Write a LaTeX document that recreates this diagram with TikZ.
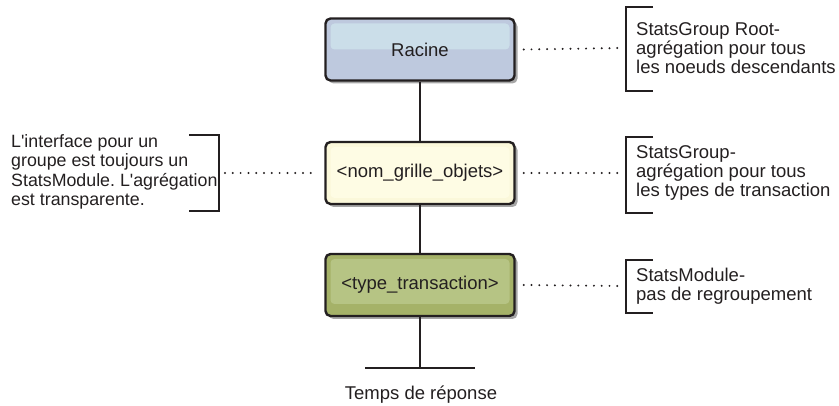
\documentclass[tikz,border=0pt]{standalone}
\usepackage{fontspec}
\setmainfont{Liberation Sans}
\frenchspacing
\definecolor{inkgray}{RGB}{35,31,32}
\definecolor{racineblue}{RGB}{190,201,222}
\definecolor{racinelight}{RGB}{203,222,233}
\definecolor{grillecream}{RGB}{251,248,218}
\definecolor{grillelight}{RGB}{254,252,228}
\definecolor{typegreen}{RGB}{165,178,104}
\definecolor{typelight}{RGB}{182,196,132}
\usetikzlibrary{positioning, shadows, calc}

\begin{document}
\begin{tikzpicture}[x=1pt, y=-1pt,
    font=\fontsize{18.5}{19}\selectfont, text=inkgray,
    levelbox/.style={rectangle, draw=inkgray, line width=2.4pt, rounded corners=5pt,
                     minimum width=189pt, minimum height=62pt, inner sep=0pt,
                     drop shadow={shadow xshift=3pt, shadow yshift=-3pt,
                                  fill=black!35, opacity=1}},
    sheen/.style 2 args={path picture={
        \fill[#1, rounded corners=4pt]
            ([shift={(5,5)}]path picture bounding box.north west) rectangle
            ([shift={(-5,-#2)}]path picture bounding box.south east);}},
    note/.style={align=left, inner sep=0pt, anchor=west},
    link/.style={draw=inkgray, line width=2.4pt},
    leader/.style={draw=inkgray, line width=2.2pt, line cap=round,
                   dash pattern=on 0pt off 7.8pt},
    bracket/.style={draw=inkgray, line width=2.4pt}
]
\useasboundingbox (0,0) rectangle (839,406);

% the three levels
\node[levelbox, fill=racineblue, sheen={racinelight}{31}] (racine) at (420,49.5) {Racine};
\node[levelbox, fill=grillecream, sheen={grillelight}{6}] (grille) at (420,173) {<nom\_grille\_objets>};
\node[levelbox, fill=typegreen, sheen={typelight}{12}] (type) at (420,285) {<type\_transaction>};

\coordinate (foot) at (420,368);
\draw[link] (racine) -- (grille);
\draw[link] (grille) -- (type);
\draw[link] (type) -- (foot);
\draw[link] ([xshift=-55]foot) -- ([xshift=55]foot);
\node (temps) at (421,395) {Temps de r\'eponse};

% notes
\node[note] (rootnote) at (636,48) {StatsGroup Root-\\agr\'egation pour tous\\les noeuds descendants};
\node[note] (groupnote) at (636,173) {StatsGroup-\\agr\'egation pour tous\\les types de transaction};
\node[note] (modulenote) at (636,286) {StatsModule-\\pas de regroupement};
\node[note, font=\fontsize{17.8}{19.3}\selectfont] (ifacenote) at (11,172)
    {L\textquotesingle interface pour un\\groupe est toujours un\\StatsModule. L\textquotesingle agr\'egation\\est transparente.};

\coordinate (rootbrk) at (626,48);
\coordinate (groupbrk) at (626,173);
\coordinate (modulebrk) at (626,286);
\coordinate (ifacebrk) at (219,173);

\draw[bracket] ([shift={(27,-41)}]rootbrk) -- ++(-27,0) -- ++(0,84) -- ++(27,0);
\draw[bracket] ([shift={(27,-36)}]groupbrk) -- ++(-27,0) -- ++(0,76) -- ++(27,0);
\draw[bracket] ([shift={(27,-26)}]modulebrk) -- ++(-27,0) -- ++(0,53) -- ++(27,0);
\draw[bracket] ([shift={(-30,-38)}]ifacebrk) -- ++(30,0) -- ++(0,76) -- ++(-30,0);

% dotted leaders
\draw[leader] ([xshift=8]racine.east) -- ([xshift=-5]rootbrk);
\draw[leader] ([xshift=8]grille.east) -- ([xshift=-5]groupbrk);
\draw[leader] ([xshift=8]type.east) -- ([xshift=-5]modulebrk);
\draw[leader] ([xshift=6]ifacebrk) -- ([xshift=-8]grille.west);
\end{tikzpicture}
\end{document}
